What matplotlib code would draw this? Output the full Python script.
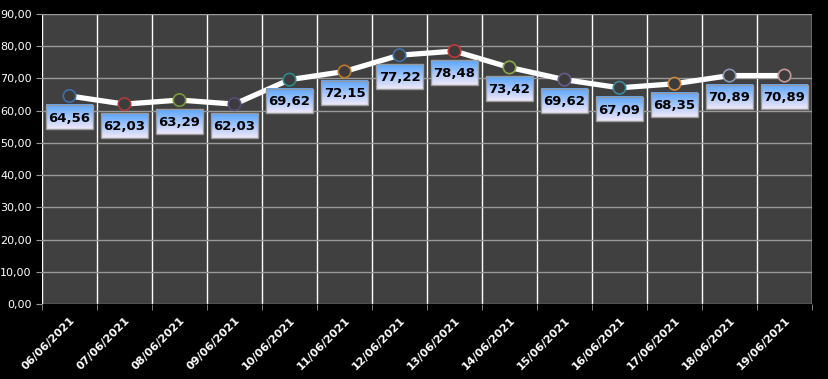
import numpy as np
import matplotlib
matplotlib.use("Agg")
from matplotlib import pyplot as plt
from matplotlib.patches import Rectangle

dates = ["06/06/2021", "07/06/2021", "08/06/2021", "09/06/2021", "10/06/2021",
         "11/06/2021", "12/06/2021", "13/06/2021", "14/06/2021", "15/06/2021",
         "16/06/2021", "17/06/2021", "18/06/2021", "19/06/2021"]
values = [64.56, 62.03, 63.29, 62.03, 69.62, 72.15, 77.22, 78.48, 73.42,
          69.62, 67.09, 68.35, 70.89, 70.89]
edge_colors = ["#3f6fa8", "#b03a3a", "#7a9a3a", "#5a4a7a", "#2f8a8a", "#c0762a",
               "#3f6fa8", "#c03a3a", "#8aa84a", "#6a5a8a", "#3a8a9a", "#d08a3a",
               "#8a9ab8", "#c89a9a"]
y_ticks = [0, 10, 20, 30, 40, 50, 60, 70, 80, 90]

fig = plt.figure(figsize=(8.29, 3.79), dpi=100, facecolor="black")
ax = fig.add_axes([42 / 829, 75 / 379, 770 / 829, 290 / 379])
ax.set_facecolor("#404040")

x = np.arange(len(dates))

# grid
ax.set_yticks(y_ticks)
ax.set_yticklabels([f"{v:.2f}".replace(".", ",") for v in y_ticks])
ax.grid(axis="y", color="#9a9a9a", lw=1)
ax.set_xticks(x)
ax.set_xticklabels(dates, rotation=45, ha="right", rotation_mode="anchor")
ax.set_xticks(np.arange(len(dates) + 1) - 0.5, minor=True)
ax.grid(axis="x", which="minor", color="white", lw=1)
ax.set_axisbelow(True)
ax.tick_params(axis="x", which="major", length=0, pad=8, colors="white", labelsize=8)
ax.tick_params(axis="x", which="minor", length=4, color="#9a9a9a")
ax.tick_params(axis="y", length=4, color="#9a9a9a", colors="white", labelsize=8)
for lbl in ax.get_xticklabels():
    lbl.set_fontweight("bold")
for s in ax.spines.values():
    s.set_visible(False)

ax.plot(x, values, color="white", lw=3.8, zorder=3, solid_joinstyle="round")
ax.scatter(x, values, s=80, c="#3c3c3c", edgecolors=edge_colors, linewidths=1.2, zorder=4)

# gradient label boxes
grad = np.linspace(0, 1, 32)[:, None]
top = np.array([90, 165, 255]) / 255
bot = np.array([240, 232, 250]) / 255
img = (top[None, None, :] * (1 - grad[..., None]) + bot[None, None, :] * grad[..., None])
w = 0.84
h = 7.6
off = 6.6
for xi, v in zip(x, values):
    yc = v - off
    ax.imshow(img, extent=(xi - w / 2, xi + w / 2, yc - h / 2, yc + h / 2),
              aspect="auto", zorder=5)
    ax.add_patch(Rectangle((xi - w / 2, yc - h / 2), w, h, fill=False,
                           ec="#9a9a9a", lw=1, zorder=6))
    ax.text(xi, yc - 0.3, f"{v:.2f}".replace(".", ","), ha="center", va="center",
            fontsize=9.5, fontweight="bold", color="black", zorder=7)

ax.set_xlim(-0.5, len(dates) - 0.5)
ax.set_ylim(0, 90)
fig.savefig("out.png", dpi=100, facecolor="black")
